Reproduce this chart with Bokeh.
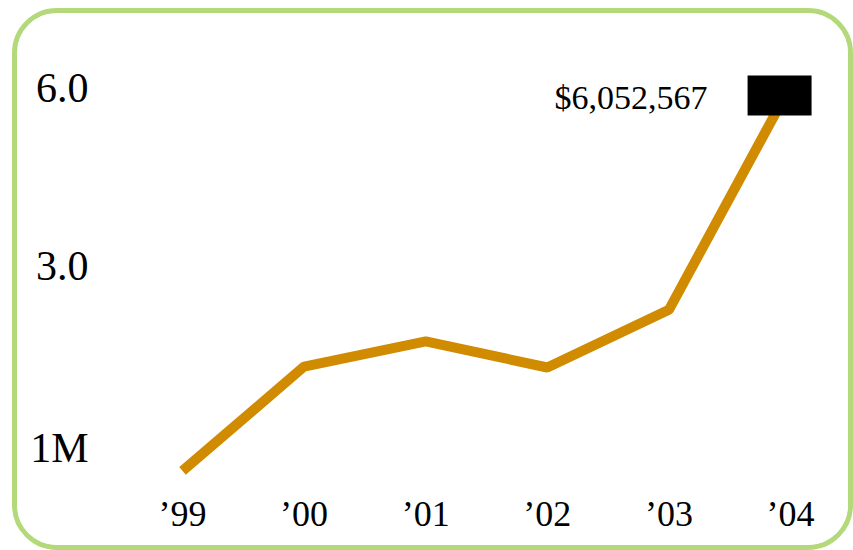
import numpy as np
from bokeh.plotting import figure
from bokeh.models import FixedTicker, Range1d
from bokeh.core.properties import value
from bokeh.embed import file_html
from bokeh.resources import INLINE

# ---- data ----
years = ["\u201999", "\u201900", "\u201901", "\u201902", "\u201903", "\u201904"]
revenue_m = [0.82, 1.76, 2.04, 1.75, 2.42, 6.052567]   # millions of dollars
last_value = 6052567
y_ticks = [1, 3, 6]
y_tick_labels = ["1M", "3.0", "6.0"]

# ---- styles ----
LINE_COLOR = "#d08b00"
BORDER_COLOR = "#b3d97a"
FONT = "Liberation Serif"

x = list(range(len(years)))
y = np.sqrt(np.array(revenue_m))          # square-root value scale

p = figure(width=831, height=532, output_backend="svg", toolbar_location=None,
           x_range=Range1d(-0.6743, 5.411), y_range=Range1d(0.8386, 2.7514),
           min_border_left=83, min_border_right=18, min_border_top=0,
           min_border_bottom=68, background_fill_color="white",
           border_fill_color="white")
p.title.visible = False
p.outline_line_color = None
p.xgrid.visible = False
p.ygrid.visible = False
p.styles = {"border": f"5px solid {BORDER_COLOR}", "border-radius": "45px",
            "box-sizing": "content-box",
            "overflow": "hidden", "margin-left": "12px", "margin-top": "8px"}

p.line(x, y, line_color=LINE_COLOR, line_width=10)

# marker box on the last point
p.rect(x=[x[-1] - 0.09], y=[y[-1] - 0.04], width=64, height=40,
       width_units="screen", height_units="screen",
       fill_color="black", line_color=None)

p.text(x=[x[-1]], y=[y[-1]], text=[f"${last_value:,}"],
       x_offset=-83, y_offset=12, text_align="right", text_baseline="middle",
       text_font=value(FONT), text_font_size="34px", text_color="black")

# axes
xa = p.xaxis[0]
xa.ticker = FixedTicker(ticks=x)
xa.major_label_overrides = {i: lab for i, lab in zip(x, years)}
ya = p.yaxis[0]
ya.ticker = FixedTicker(ticks=[float(np.sqrt(t)) for t in y_ticks])
ya.major_label_overrides = {float(np.sqrt(t)): lab for t, lab in zip(y_ticks, y_tick_labels)}
for ax in (xa, ya):
    ax.axis_line_color = None
    ax.major_tick_line_color = None
    ax.minor_tick_line_color = None
    ax.major_label_text_font = FONT
    ax.major_label_text_color = "black"
xa.major_label_text_font_size = "36px"
xa.major_label_standoff = 0
ya.major_label_text_font_size = "42px"
ya.major_label_standoff = 6

open("out.html", "w").write(file_html(p, INLINE))
